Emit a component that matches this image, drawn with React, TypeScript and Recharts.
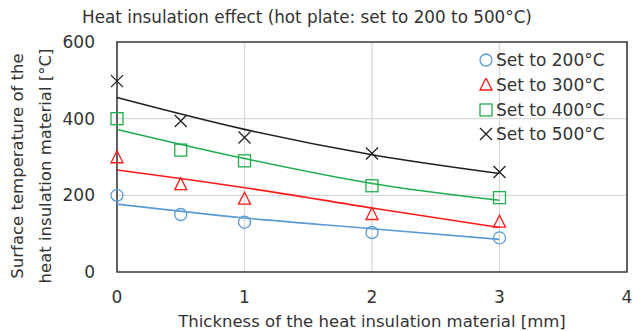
import React from "react";
import {
  ComposedChart,
  Line,
  Scatter,
  XAxis,
  YAxis,
  CartesianGrid,
  ReferenceArea,
} from "recharts";

// measured points
const thickness = [0, 0.5, 1, 2, 3];
const set200 = [200, 150, 130, 103, 89];
const set300 = [298, 228, 190, 150, 130];
const set400 = [400, 318, 290, 225, 194];
const set500 = [498, 394, 351, 309, 261];

// trend lines
const fitX = [0, 1, 2, 3];
const fit200 = [177, 141, 113, 85];
const fit300 = [266, 220, 167, 116];
const fit400 = [372, 296, 231, 187];
const fit500 = [455, 372, 306, 257];

const xTicks = [0, 1, 2, 3, 4];
const yTicks = [0, 200, 400, 600];

const FONT = "'DejaVu Sans', sans-serif";
const TEXT = "#333";

const series = [
  { name: "Set to 200°C", pts: set200, fit: fit200, color: "#5b9bd5", shape: "circle" },
  { name: "Set to 300°C", pts: set300, fit: fit300, color: "#ff1a1a", shape: "triangle" },
  { name: "Set to 400°C", pts: set400, fit: fit400, color: "#1fae4e", shape: "square" },
  { name: "Set to 500°C", pts: set500, fit: fit500, color: "#231f20", shape: "cross" },
];

const toPts = (xs: number[], ys: number[]) => xs.map((x, i) => ({ x, y: ys[i] }));

function Marker({ cx, cy, shape, color }: any) {
  const s = 6;
  if (shape === "circle")
    return <circle cx={cx} cy={cy} r={s} fill="none" stroke={color} strokeWidth={1.3} />;
  if (shape === "triangle")
    return (
      <polygon
        points={`${cx},${cy - s - 1} ${cx - s},${cy + s - 1} ${cx + s},${cy + s - 1}`}
        fill="none"
        stroke={color}
        strokeWidth={1.3}
      />
    );
  if (shape === "square")
    return <rect x={cx - s} y={cy - s} width={2 * s} height={2 * s} fill="none" stroke={color} strokeWidth={1.3} />;
  return (
    <path
      d={`M${cx - s},${cy - s}L${cx + s},${cy + s}M${cx - s},${cy + s}L${cx + s},${cy - s}`}
      stroke={color}
      strokeWidth={1.3}
    />
  );
}

function LegendBox() {
  return (
    <div
      style={{
        position: "absolute",
        top: 48,
        left: 479,
        fontFamily: FONT,
        fontSize: 17,
        color: TEXT,
      }}
    >
      {series.map((s) => (
        <div key={s.name} style={{ display: "flex", alignItems: "center", height: 24.7 }}>
          <svg width={14} height={14} style={{ marginRight: 3 }}>
            <Marker cx={7} cy={7} shape={s.shape} color={s.color} />
          </svg>
          {s.name}
        </div>
      ))}
    </div>
  );
}

function YLabel() {
  const cy = 166;
  return (
    <g fontFamily={FONT} fontSize={16.5} fill={TEXT}>
      <text x={17} y={cy} transform={`rotate(-90 17 ${cy})`} textAnchor="middle" dominantBaseline="central">
        Surface temperature of the
      </text>
      <text x={45} y={cy} transform={`rotate(-90 45 ${cy})`} textAnchor="middle" dominantBaseline="central">
        heat insulation material [°C]
      </text>
    </g>
  );
}

export default function App() {
  return (
    <div style={{ position: "absolute", left: 0, top: 0, width: 632, height: 331, background: "#fff" }}>
      <div
        style={{
          position: "absolute",
          top: 7,
          left: 0,
          width: 614,
          textAlign: "center",
          fontFamily: FONT,
          fontSize: 16.8,
          color: TEXT,
        }}
      >
        Heat insulation effect (hot plate: set to 200 to 500°C)
      </div>
      <ComposedChart width={632} height={331} margin={{ top: 42, right: 5, left: 0, bottom: 0 }}>
        <CartesianGrid stroke="#d9d9d9" strokeWidth={1.3} />
        <XAxis
          dataKey="x"
          type="number"
          domain={[0, 4]}
          ticks={xTicks}
          height={59}
          axisLine={false}
          tickLine={false}
          tickSize={0}
          tickMargin={19}
          interval={0}
          tick={{ fontFamily: FONT, fontSize: 17, fill: TEXT }}
          label={{
            value: "Thickness of the heat insulation material [mm]",
            position: "insideBottom",
            offset: 4,
            style: { fontFamily: FONT, fontSize: 16.5, fill: TEXT },
          }}
        />
        <YAxis
          type="number"
          domain={[0, 600]}
          ticks={yTicks}
          width={117}
          axisLine={false}
          tickLine={false}
          tickSize={0}
          tickMargin={22}
          interval={0}
          tick={{ fontFamily: FONT, fontSize: 17, fill: TEXT }}
          label={<YLabel />}
        />
        <ReferenceArea x1={0} x2={4} y1={0} y2={600} fill="none" stroke="#404040" strokeWidth={1.6} ifOverflow="visible" />
        {series.map((s) => (
          <Line
            key={"fit" + s.name}
            data={toPts(fitX, s.fit)}
            dataKey="y"
            type="monotone"
            stroke={s.color}
            strokeWidth={1.6}
            dot={false}
            activeDot={false}
            legendType="none"
            isAnimationActive={false}
          />
        ))}
        {series.map((s) => (
          <Scatter
            key={s.name}
            name={s.name}
            data={toPts(thickness, s.pts)}
            dataKey="y"
            shape={(p: any) => <Marker cx={p.cx} cy={p.cy} shape={s.shape} color={s.color} />}
            isAnimationActive={false}
          />
        ))}
      </ComposedChart>
      <LegendBox />
    </div>
  );
}
